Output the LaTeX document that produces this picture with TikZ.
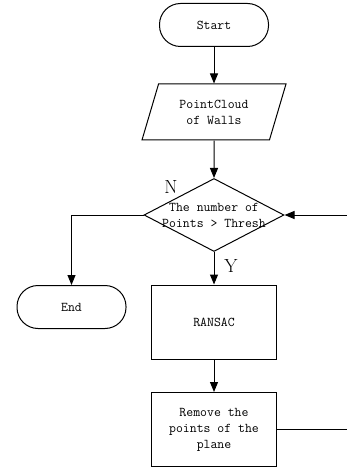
\documentclass[tikz,border=0pt]{standalone}
\usetikzlibrary{shapes.geometric,arrows.meta}
\begin{document}
\begin{tikzpicture}[x=1pt, y=-1pt, line width=1pt, >={Triangle[length=10pt,width=8pt]},
  font=\fontsize{13.4}{16}\selectfont\ttfamily,
  term/.style = {draw, rounded corners=21pt, minimum width=109pt, minimum height=43pt},
  io/.style = {draw, trapezium, trapezium left angle=62, trapezium right angle=118, trapezium stretches body, minimum width=144pt, minimum height=56pt, align=center},
  proc/.style = {draw, minimum width=125pt, minimum height=74pt, align=center},
  decide/.style = {draw, diamond, minimum width=140pt, minimum height=73pt, inner sep=0pt},
  yn/.style = {font=\fontsize{19}{19}\selectfont\rmfamily}]
\useasboundingbox (0,0) rectangle (347,470);
\node[term] (start) at (214,25) {Start};
\node[io] (cloud) at (214,112) {PointCloud\\of Walls};
\node[decide] (dec) at (214,215) {};
\node[align=center] (dectext) at (214,215) {The number of\\Points > Thresh};
\node[term] (end) at (71.5,307) {End};
\node[proc] (ransac) at (214,322) {RANSAC};
\node[proc] (remove) at (214,429.5) {Remove the\\points of the\\plane};
\coordinate (back) at (347.5,215); % loop runs along the right edge
\node[yn] (n) at (171,187) {N};
\node[yn] (y) at (231,266) {Y};
\draw[->] (start) -- (cloud);
\draw[->] (cloud) -- (dec);
\draw[->] (dec.west) -| (end.north);
\draw[->] (dec) -- (ransac);
\draw[->] (ransac) -- (remove);
\draw[->] (remove.east) -| (back) -- (dec.east);
\end{tikzpicture}
\end{document}
